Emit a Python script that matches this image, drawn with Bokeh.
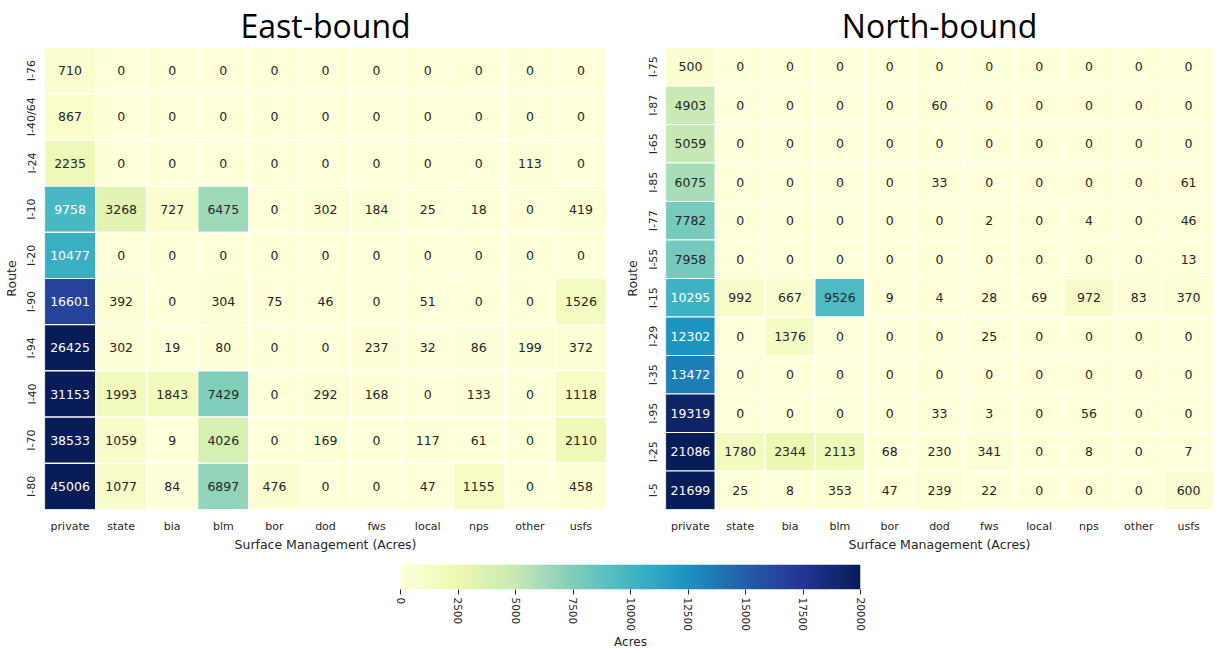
import math
import numpy as np
from bokeh.plotting import figure
from bokeh.models import ColumnDataSource, FactorRange, LinearColorMapper, Range1d, FixedTicker
from bokeh.layouts import column, row
from bokeh.transform import linear_cmap
from bokeh.embed import file_html
from bokeh.resources import INLINE

# ---------------- data ----------------
columns = ["private", "state", "bia", "blm", "bor", "dod", "fws", "local", "nps", "other", "usfs"]

east_routes = ["I-76", "I-40/64", "I-24", "I-10", "I-20", "I-90", "I-94", "I-40", "I-70", "I-80"]
east_private = [710, 867, 2235, 9758, 10477, 16601, 26425, 31153, 38533, 45006]
east_state   = [0, 0, 0, 3268, 0, 392, 302, 1993, 1059, 1077]
east_bia     = [0, 0, 0, 727, 0, 0, 19, 1843, 9, 84]
east_blm     = [0, 0, 0, 6475, 0, 304, 80, 7429, 4026, 6897]
east_bor     = [0, 0, 0, 0, 0, 75, 0, 0, 0, 476]
east_dod     = [0, 0, 0, 302, 0, 46, 0, 292, 169, 0]
east_fws     = [0, 0, 0, 184, 0, 0, 237, 168, 0, 0]
east_local   = [0, 0, 0, 25, 0, 51, 32, 0, 117, 47]
east_nps     = [0, 0, 0, 18, 0, 0, 86, 133, 61, 1155]
east_other   = [0, 0, 113, 0, 0, 0, 199, 0, 0, 0]
east_usfs    = [0, 0, 0, 419, 0, 1526, 372, 1118, 2110, 458]

north_routes = ["I-75", "I-87", "I-65", "I-85", "I-77", "I-55", "I-15", "I-29", "I-35", "I-95", "I-25", "I-5"]
north_private = [500, 4903, 5059, 6075, 7782, 7958, 10295, 12302, 13472, 19319, 21086, 21699]
north_state   = [0, 0, 0, 0, 0, 0, 992, 0, 0, 0, 1780, 25]
north_bia     = [0, 0, 0, 0, 0, 0, 667, 1376, 0, 0, 2344, 8]
north_blm     = [0, 0, 0, 0, 0, 0, 9526, 0, 0, 0, 2113, 353]
north_bor     = [0, 0, 0, 0, 0, 0, 9, 0, 0, 0, 68, 47]
north_dod     = [0, 60, 0, 33, 0, 0, 4, 0, 0, 33, 230, 239]
north_fws     = [0, 0, 0, 0, 2, 0, 28, 25, 0, 3, 341, 22]
north_local   = [0, 0, 0, 0, 0, 0, 69, 0, 0, 0, 0, 0]
north_nps     = [0, 0, 0, 0, 4, 0, 972, 0, 0, 56, 8, 0]
north_other   = [0, 0, 0, 0, 0, 0, 83, 0, 0, 0, 0, 0]
north_usfs    = [0, 0, 0, 61, 46, 13, 370, 0, 0, 0, 7, 600]

cbar_ticks = [0, 2500, 5000, 7500, 10000, 12500, 15000, 17500, 20000]
VMIN, VMAX = 0, 20000

east_cols = [east_private, east_state, east_bia, east_blm, east_bor, east_dod,
             east_fws, east_local, east_nps, east_other, east_usfs]
north_cols = [north_private, north_state, north_bia, north_blm, north_bor, north_dod,
              north_fws, north_local, north_nps, north_other, north_usfs]

# ---------------- colormap (matplotlib YlGnBu) ----------------
YLGNBU9 = ["#ffffd9", "#edf8b1", "#c7e9b4", "#7fcdbb", "#41b6c4",
           "#1d91c0", "#225ea8", "#253494", "#081d58"]


def hex2rgb(h):
    return np.array([int(h[i:i + 2], 16) for i in (1, 3, 5)], dtype=float)


def build_palette(n=256):
    anchors = np.array([hex2rgb(c) for c in YLGNBU9])
    pos = np.linspace(0, 1, len(anchors))
    out = []
    for t in np.linspace(0, 1, n):
        rgb = [np.interp(t, pos, anchors[:, k]) for k in range(3)]
        out.append("#%02x%02x%02x" % tuple(int(round(v)) for v in rgb))
    return out


PALETTE = build_palette(256)


def lum(hexcol):
    rgb = hex2rgb(hexcol) / 255.0
    rgb = np.where(rgb <= 0.03928, rgb / 12.92, ((rgb + 0.055) / 1.055) ** 2.4)
    return 0.2126 * rgb[0] + 0.7152 * rgb[1] + 0.0722 * rgb[2]


def text_color(v):
    t = min(max((v - VMIN) / (VMAX - VMIN), 0), 1)
    c = PALETTE[int(round(t * 255))]
    return "#262626" if lum(c) > 0.408 else "#ffffff"


FONT = "DejaVu Sans"
TXT = "#262626"


def heatmap(title, routes, cols, frame_w, frame_h, border_left, border_right):
    xs, ys, vals, tcols = [], [], [], []
    for ci, cname in enumerate(columns):
        for ri, r in enumerate(routes):
            v = cols[ci][ri]
            xs.append(cname)
            ys.append(r)
            vals.append(v)
            tcols.append(text_color(v))
    src = ColumnDataSource(dict(x=xs, y=ys, v=vals, label=[str(v) for v in vals], tc=tcols))

    p = figure(x_range=FactorRange(factors=columns),
               y_range=FactorRange(factors=list(reversed(routes))),
               frame_width=frame_w, frame_height=frame_h,
               min_border_left=border_left, min_border_right=border_right,
               min_border_top=0, min_border_bottom=0,
               output_backend="svg", toolbar_location=None, tools="")
    p.rect(x="x", y="y", width=1, height=1, source=src,
           fill_color=linear_cmap("v", PALETTE, VMIN, VMAX),
           line_color="white", line_width=1.2)
    p.text(x="x", y="y", text="label", source=src, text_color="tc",
           text_align="center", text_baseline="middle",
           text_font_size="12.5px", text_font={"value": FONT})

    p.title.text = title
    p.title.align = "center"
    p.title.text_font = "Open Sans"
    p.title.text_font_size = "32px"
    p.title.text_font_style = "normal"
    p.title.text_color = "#000000"
    p.title.standoff = 2
    p.title.offset = 0

    p.outline_line_color = None
    p.grid.grid_line_color = None
    for ax in (p.xaxis, p.yaxis):
        ax.axis_line_color = None
        ax.major_tick_line_color = None
        ax.minor_tick_line_color = None
        ax.major_tick_out = 0
        ax.major_tick_in = 0
        ax.major_label_text_font = FONT
        ax.major_label_text_font_size = "11px"
        ax.major_label_text_color = TXT
        ax.axis_label_text_font = FONT
        ax.axis_label_text_font_size = "12.5px"
        ax.axis_label_text_font_style = "normal"
        ax.axis_label_text_color = TXT
    p.xaxis.axis_label = "Surface Management (Acres)"
    p.xaxis.major_label_standoff = 10
    p.xaxis.axis_label_standoff = 1
    p.yaxis.axis_label = "Route"
    p.yaxis.major_label_orientation = "vertical"
    p.yaxis.major_label_standoff = 6
    p.yaxis.axis_label_standoff = 4
    return p


p1 = heatmap("East-bound", east_routes, east_cols, 562, 462, 39, 6)
p2 = heatmap("North-bound", north_routes, north_cols, 548, 462, 53, 1)

# ---------------- colour bar ----------------
cb = figure(x_range=Range1d(VMIN, VMAX), y_range=Range1d(0, 1),
            frame_width=460, frame_height=25,
            min_border_left=400, min_border_right=349,
            min_border_top=10, min_border_bottom=0,
            output_backend="svg", toolbar_location=None, tools="")
grad = np.linspace(VMIN, VMAX, 512).reshape(1, -1)
cb.image(image=[grad], x=VMIN, y=0, dw=VMAX - VMIN, dh=1,
         color_mapper=LinearColorMapper(palette=PALETTE, low=VMIN, high=VMAX))
cb.yaxis.visible = False
cb.grid.grid_line_color = None
cb.outline_line_color = None
cb.xaxis.ticker = FixedTicker(ticks=cbar_ticks)
cb.xaxis.minor_tick_line_color = None
cb.xaxis.axis_line_color = None
cb.xaxis.major_tick_out = 5
cb.xaxis.major_tick_in = 0
cb.xaxis.major_tick_line_color = "#262626"
cb.xaxis.major_label_orientation = -math.pi / 2
cb.xaxis.major_label_text_font = FONT
cb.xaxis.major_label_text_font_size = "10.5px"
cb.xaxis.major_label_text_color = TXT
cb.xaxis.major_label_standoff = 3
cb.xaxis.axis_label = "Acres"
cb.xaxis.axis_label_text_font = FONT
cb.xaxis.axis_label_text_font_size = "12px"
cb.xaxis.axis_label_text_font_style = "normal"
cb.xaxis.axis_label_text_color = TXT
cb.xaxis.axis_label_standoff = 1

layout = column(row(p1, p2), cb)

with open("out.html", "w") as f:
    f.write(file_html(layout, INLINE))
